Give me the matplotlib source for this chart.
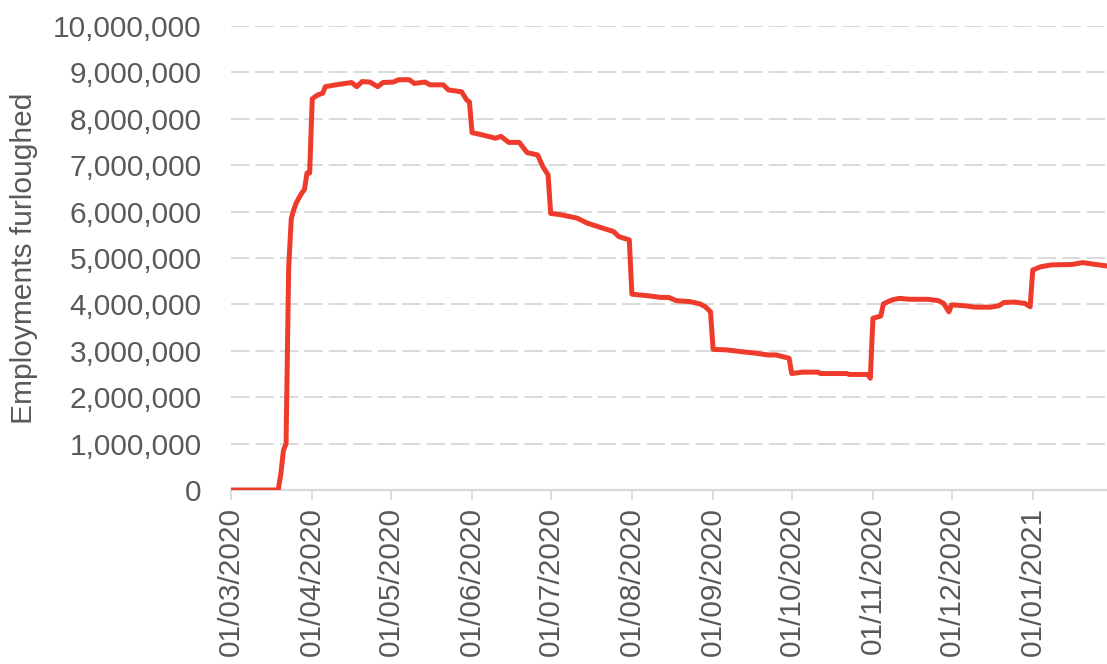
import matplotlib
matplotlib.use("Agg")
import matplotlib.pyplot as plt
import matplotlib.dates as mdates
import matplotlib.ticker as mticker
import numpy as np
import pandas as pd

plt.rcParams["font.family"] = ["Liberation Sans", "DejaVu Sans"]

# employments furloughed (millions)
dates = [
    "2020-03-01", "2020-03-19", "2020-03-20", "2020-03-21", "2020-03-22",
    "2020-03-23", "2020-03-24", "2020-03-25", "2020-03-26", "2020-03-27",
    "2020-03-28", "2020-03-29", "2020-03-30", "2020-03-31",
    "2020-04-01", "2020-04-03", "2020-04-05", "2020-04-06", "2020-04-10",
    "2020-04-16", "2020-04-18", "2020-04-20", "2020-04-23", "2020-04-26",
    "2020-04-28", "2020-05-02", "2020-05-04", "2020-05-08", "2020-05-10",
    "2020-05-14", "2020-05-16", "2020-05-21", "2020-05-23", "2020-05-28",
    "2020-05-30", "2020-05-31",
    "2020-06-01", "2020-06-05", "2020-06-10", "2020-06-12", "2020-06-15",
    "2020-06-19", "2020-06-22", "2020-06-26", "2020-06-28", "2020-06-30",
    "2020-07-01", "2020-07-05", "2020-07-11", "2020-07-15", "2020-07-21",
    "2020-07-25", "2020-07-27", "2020-07-31",
    "2020-08-01", "2020-08-08", "2020-08-12", "2020-08-15", "2020-08-18",
    "2020-08-23", "2020-08-27", "2020-08-29", "2020-08-31",
    "2020-09-01", "2020-09-06", "2020-09-12", "2020-09-17", "2020-09-22",
    "2020-09-25", "2020-09-30",
    "2020-10-01", "2020-10-05", "2020-10-11", "2020-10-12", "2020-10-22",
    "2020-10-23", "2020-10-30", "2020-10-31",
    "2020-11-01", "2020-11-04", "2020-11-05", "2020-11-08", "2020-11-11",
    "2020-11-15", "2020-11-22", "2020-11-26", "2020-11-28", "2020-11-30",
    "2020-12-01", "2020-12-06", "2020-12-10", "2020-12-16", "2020-12-19",
    "2020-12-21", "2020-12-25", "2020-12-29", "2020-12-31",
    "2021-01-01", "2021-01-04", "2021-01-08", "2021-01-16", "2021-01-20",
    "2021-01-25", "2021-01-29",
]
furloughed_m = [
    0.0, 0.0, 0.35, 0.85, 1.0,
    4.8, 5.85, 6.05, 6.2, 6.3,
    6.4, 6.47, 6.83, 6.83,
    8.43, 8.51, 8.55, 8.69, 8.73,
    8.78, 8.69, 8.80, 8.79, 8.69,
    8.78, 8.79, 8.84, 8.84, 8.76,
    8.79, 8.73, 8.73, 8.62, 8.58,
    8.40, 8.36,
    7.70, 7.65, 7.58, 7.62, 7.49,
    7.49, 7.27, 7.22, 6.97, 6.79,
    5.96, 5.93, 5.86, 5.75, 5.64,
    5.57, 5.46, 5.39,
    4.22, 4.18, 4.15, 4.15, 4.08,
    4.06, 4.01, 3.95, 3.84,
    3.03, 3.02, 2.98, 2.95, 2.91,
    2.91, 2.84,
    2.51, 2.54, 2.54, 2.51, 2.51,
    2.49, 2.49, 2.41,
    3.70, 3.75, 4.01, 4.09, 4.13,
    4.11, 4.11, 4.08, 4.02, 3.84,
    3.99, 3.97, 3.94, 3.94, 3.97,
    4.04, 4.05, 4.02, 3.95,
    4.74, 4.81, 4.85, 4.86, 4.90,
    4.86, 4.83,
]
x_start = "2020-03-01"
x_end = "2021-01-29"

series = pd.Series(np.array(furloughed_m) * 1e6, index=pd.to_datetime(dates))

fig = plt.figure(figsize=(11.07, 6.64), dpi=100)
ax = fig.add_axes([0.2087, 0.262, 0.7913, 0.699])

ax.plot(series.index, series.values, color="#EE3B2C", linewidth=3.6,
        solid_joinstyle="round", zorder=3)

ax.set_xlim(pd.Timestamp(x_start), pd.Timestamp(x_end) + pd.Timedelta(hours=8))
ax.set_ylim(0, 10_000_000)
ax.yaxis.set_major_locator(mticker.MultipleLocator(1_000_000))
ax.yaxis.set_major_formatter(mticker.FuncFormatter(lambda v, p: f"{v:,.0f}"))
ax.xaxis.set_major_locator(mdates.MonthLocator())
ax.xaxis.set_major_formatter(mdates.DateFormatter("%d/%m/%Y"))

ax.grid(axis="y", color="#D0D0D0", linewidth=1.1, dashes=(12, 4))
ax.set_axisbelow(True)

for s in ["top", "right", "left"]:
    ax.spines[s].set_visible(False)
ax.spines["bottom"].set_color("#D9D9D9")
ax.spines["bottom"].set_linewidth(1.5)

ax.tick_params(axis="y", length=0, pad=21, labelsize=21.5, labelcolor="#595959")
ax.tick_params(axis="x", length=7, width=1.3, color="#D9D9D9", pad=5,
               labelsize=21.5, labelcolor="#595959", labelrotation=90)

ax.set_ylabel("Employments furloughed", fontsize=21.5, color="#595959", labelpad=11)

fig.savefig("out.png", dpi=100)
